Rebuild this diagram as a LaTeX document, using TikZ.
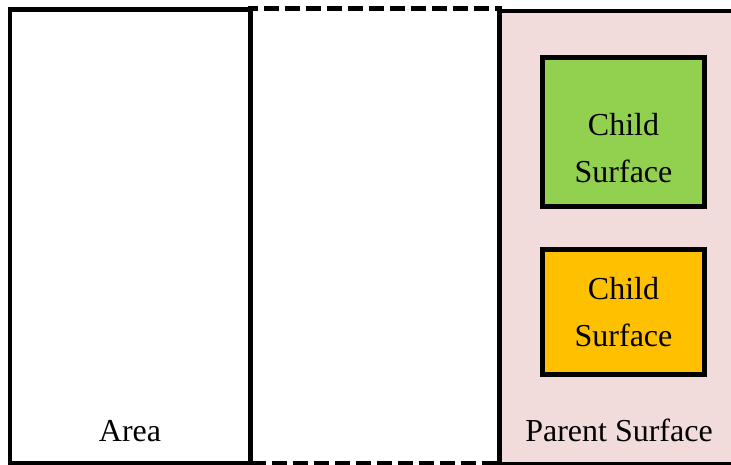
\documentclass[tikz,border=0pt]{standalone}
\usepackage{fontspec}
\setmainfont{Liberation Serif}
\usetikzlibrary{positioning}
\definecolor{parentpink}{HTML}{F2DCDB}
\definecolor{childgreen}{HTML}{92D050}
\definecolor{childorange}{HTML}{FFC000}
\tikzset{
    panel/.style={
            rectangle,
            draw,
            line width=4.8pt,
            inner sep=0pt
        },
    gappanel/.style={
            panel,
            dash pattern=on 15pt off 6pt
        },
    childbox/.style={
            rectangle,
            draw,
            line width=4.8pt,
            minimum width=162pt
        },
    childtext/.style={
            align=center,
            font=\fontsize{32}{47}\selectfont
        },
    labeltext/.style={
            anchor=base,
            font=\fontsize{32}{38}\selectfont
        }
}
\begin{document}
\begin{tikzpicture}[x=1pt,y=-1pt]
  \useasboundingbox (0,0) rectangle (731,464);
  \clip (0,0) rectangle (731,464);
  \node[panel, fill=parentpink, minimum width=235.5pt, minimum height=453pt] (parent) at (617.25,237.5) {};
  \node[gappanel, minimum width=249pt, minimum height=454.5pt] (gap) at (375,235.75) {};
  \node[panel, minimum width=240.5pt, minimum height=454pt] (area) at (130.25,236.5) {};
  \node[childbox, fill=childgreen, minimum height=149pt] (child1) at (623.5,132) {};
  \node[childbox, fill=childorange, minimum height=125.5pt, below=38pt of child1] (child2) {};
  \node[childtext] (child1text) at ([yshift=-16pt]child1.center) {Child\\Surface};
  \node[childtext] (child2text) at (child2.center) {Child\\Surface};
  \node[labeltext] (arealabel) at (130,441) {Area};
  \node[labeltext] (parentlabel) at (619,441) {Parent Surface};
\end{tikzpicture}
\end{document}
